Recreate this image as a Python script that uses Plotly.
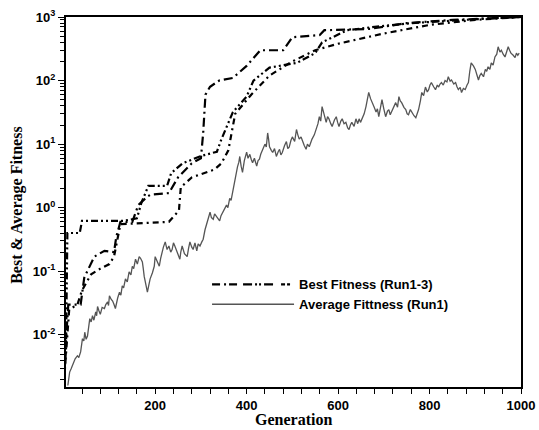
import plotly.graph_objects as go

# ---------------- data ----------------
best_a_gen = [1, 5, 8, 35, 40, 130, 160, 170, 185, 226, 235, 260, 300, 335, 345,
              360, 370, 400, 415, 450, 510, 550, 565, 620, 680, 760, 850, 930, 1000]
best_a_val = [0.002, 0.006, 0.4, 0.4, 0.62, 0.62, 0.68, 1.2, 2.2, 2.2, 3.5, 5, 6.5, 7.6, 12,
              22, 32, 56, 100, 160, 190, 270, 400, 620, 700, 800, 880, 950, 1000]

best_b_gen = [1, 6, 10, 37, 45, 67, 89, 110, 115, 124, 150, 163, 183, 190, 230, 250, 280,
              300, 305, 310, 320, 340, 370, 400, 430, 480, 500, 560, 570, 670, 750, 850, 1000]
best_b_val = [0.003, 0.01, 0.03, 0.03, 0.08, 0.17, 0.21, 0.2, 0.35, 0.6, 0.6, 1.1, 1.5, 1.6,
              1.7, 3, 5, 6, 15, 60, 80, 100, 110, 170, 300, 300, 480, 520, 620, 650, 800, 900, 1000]

best_c_gen = [1, 6, 12, 30, 40, 60, 80, 100, 110, 124, 230, 252, 256, 280, 330, 345, 360,
              375, 395, 410, 450, 500, 550, 600, 700, 800, 900, 1000]
best_c_val = [0.002, 0.006, 0.025, 0.03, 0.05, 0.09, 0.11, 0.13, 0.17, 0.55, 0.6, 0.9, 2.1,
              3, 4, 5, 8, 30, 45, 60, 120, 200, 300, 380, 550, 750, 900, 1000]

avg_gen = [9, 11, 13, 16, 20, 25, 30, 33, 37, 39, 41, 44, 46, 49, 52, 55, 57, 60, 63, 66,
           70, 72, 74, 77, 80, 84, 89, 92, 96, 98, 100, 104, 107, 110, 113, 118, 122, 125,
           128, 131, 135, 139, 143, 147, 150, 153, 157, 161, 165, 168, 172, 174, 176, 180,
           183, 186, 189, 194, 198, 200, 205, 209, 212, 215, 218, 222, 226, 230, 234, 237,
           240, 243, 248, 254, 256, 259, 264, 270, 273, 276, 280, 283, 287, 291, 294, 298,
           302, 305, 309, 313, 316, 320, 323, 327, 330, 334, 337, 341, 344, 348, 352, 356,
           359, 363, 366, 370, 374, 377, 380, 383, 385, 388, 391, 395, 400, 403, 407, 410,
           413, 417, 422, 425, 428, 431, 435, 440, 443, 446, 448, 450, 454, 457, 461, 465,
           469, 472, 475, 478, 483, 487, 490, 493, 497, 500, 505, 509, 512, 515, 519, 522,
           526, 530, 533, 537, 540, 543, 548, 552, 556, 559, 562, 565, 570, 574, 577, 580,
           584, 587, 592, 596, 599, 602, 606, 609, 613, 617, 621, 624, 627, 630, 635, 639,
           643, 646, 649, 652, 657, 661, 664, 667, 671, 674, 679, 683, 686, 689, 693, 696,
           700, 704, 708, 711, 714, 717, 722, 726, 730, 733, 736, 739, 744, 748, 751, 754,
           758, 761, 766, 770, 773, 776, 780, 783, 787, 791, 795, 798, 801, 804, 809, 813,
           817, 820, 823, 826, 830, 834, 838, 841, 845, 848, 853, 857, 860, 863, 867, 870,
           874, 878, 882, 885, 888, 891, 896, 900, 904, 907, 910, 913, 918, 922, 925, 928,
           932, 935, 939, 943, 947, 950, 954, 957, 961, 965, 969, 972, 975, 978, 983, 987,
           990, 993, 996]
avg_val = [0.0016, 0.0022, 0.0026, 0.0029, 0.0035, 0.0042, 0.0047, 0.0044, 0.0054, 0.0070,
           0.0087, 0.0080, 0.011, 0.0085, 0.0096, 0.014, 0.018, 0.016, 0.020, 0.017,
           0.023, 0.020, 0.028, 0.024, 0.021, 0.027, 0.026, 0.030, 0.033, 0.029, 0.041, 0.036,
           0.034, 0.030, 0.026, 0.038, 0.047, 0.042,
           0.059, 0.055, 0.076, 0.068, 0.098, 0.088, 0.12, 0.11, 0.155, 0.13, 0.17, 0.16,
           0.14, 0.11, 0.083, 0.060,
           0.047, 0.060, 0.076, 0.095, 0.12, 0.17, 0.14, 0.12, 0.16, 0.20, 0.24, 0.29, 0.22,
           0.25, 0.20, 0.22,
           0.28, 0.25, 0.20, 0.155, 0.20, 0.25, 0.19, 0.17, 0.23, 0.29, 0.24, 0.22, 0.28,
           0.21, 0.27, 0.25,
           0.29, 0.32, 0.45, 0.59, 0.70, 0.85, 0.70, 0.66, 0.80, 0.73, 0.68, 0.62, 0.75, 0.85,
           0.95, 1.1,
           1.0, 1.4, 1.3, 1.9, 2.5, 3.2, 4.4, 5.2, 6.4, 4.5, 3.6, 5.5, 7.5, 6.0, 6.9, 5.8,
           5.1, 6.0, 4.5, 5.5, 5.8, 7.0, 8.3, 10, 9, 15, 12, 9.1, 8.0, 7.4, 8.5, 6.4,
           7.6, 8.3, 6.8, 7.4, 9.5, 11, 8.5, 9, 11.5, 13, 11, 17, 14, 12, 13, 11,
           9.5, 8.3, 10, 9.1, 11, 12, 14, 17, 21, 27, 23, 39, 28, 22, 27, 25,
           21, 19, 24, 27, 22, 19, 23, 25, 21, 22, 18, 17, 20, 22, 19, 25,
           21, 25, 22, 25, 30, 39, 50, 65, 52, 45, 38, 32, 36, 27, 38, 50,
           36, 27, 33, 35, 29, 32, 40, 45, 38, 56, 48, 45, 38, 35, 30, 29,
           35, 32, 28, 26, 30, 35, 48, 65, 58, 79, 66, 72, 85, 93, 80, 72,
           85, 79, 88, 93, 85, 100, 95, 115, 98, 102, 88, 93, 80, 72, 78, 65,
           75, 72, 85, 93, 140, 190, 170, 150, 120, 102, 120, 130, 115, 150, 140, 165,
           150, 190, 175, 235, 260, 340, 280, 300, 260, 235, 290, 340, 300, 270, 250, 230,
           270, 250, 270]

y_tick_vals = [0.01, 0.1, 1, 10, 100, 1000]
y_tick_text = ["10<sup>-2</sup>", "10<sup>-1</sup>", "10<sup>0</sup>",
               "10<sup>1</sup>", "10<sup>2</sup>", "10<sup>3</sup>"]
x_tick_vals = [200, 400, 600, 800, 1000]
x_tick_text = ["200", "400", "600", "800", "1000"]

legend_best = "Best Fitness (Run1-3)"
legend_avg = "Average Fittness (Run1)"
x_title = "Generation"
y_title = "Best & Average Fitness"

# ---------------- figure ----------------
fig = go.Figure()

fig.add_trace(go.Scatter(x=avg_gen, y=avg_val, mode="lines", name=legend_avg,
                         line=dict(color="#555555", width=1.3), showlegend=False))
fig.add_trace(go.Scatter(x=best_a_gen, y=best_a_val, mode="lines", showlegend=False,
                         line=dict(color="black", width=2.2, dash="7px,3px,2px,3px,2px,3px")))
fig.add_trace(go.Scatter(x=best_b_gen, y=best_b_val, mode="lines", showlegend=False,
                         line=dict(color="black", width=2.2, dash="9px,4px,2px,4px")))
fig.add_trace(go.Scatter(x=best_c_gen, y=best_c_val, mode="lines", showlegend=False,
                         line=dict(color="black", width=2.2, dash="6px,4px,2px,4px")))

# legend-only entries
fig.add_trace(go.Scatter(x=[None], y=[None], mode="lines", name=legend_best,
                         line=dict(color="black", width=2.2,
                                   dash="8px,4px,2px,3px,8px,6px,9px,3px,2px,2px,2px,3px,9px")))
fig.add_trace(go.Scatter(x=[None], y=[None], mode="lines", name=legend_avg,
                         line=dict(color="#555555", width=1.4)))

tickfont = dict(family="Liberation Sans, Arial, sans-serif", size=13, color="black", weight="bold")
titlefont = dict(family="Liberation Serif, Times New Roman, serif", size=16, color="black", weight="bold")

fig.update_layout(
    width=539, height=430,
    margin=dict(l=66, r=18, t=17, b=43, autoexpand=False),
    paper_bgcolor="white", plot_bgcolor="white",
    showlegend=True,
    legend=dict(x=0.31, y=0.318, xanchor="left", yanchor="top",
                bgcolor="rgba(0,0,0,0)", itemwidth=82, tracegroupgap=0,
                font=dict(family="Liberation Sans, Arial, sans-serif", size=13,
                          color="black", weight="bold")),
    annotations=[
        dict(text=x_title, xref="paper", yref="paper", x=0.499, y=-0.089,
             xanchor="center", yanchor="middle", showarrow=False, font=titlefont),
        dict(text=y_title, xref="paper", yref="paper", x=-0.108, y=0.492,
             xanchor="center", yanchor="middle", textangle=-90, showarrow=False, font=titlefont),
    ],
)

fig.update_xaxes(
    range=[5, 1000], showgrid=False, zeroline=False, automargin=False,
    showline=True, linecolor="black", linewidth=2, mirror=True,
    tickvals=x_tick_vals, ticktext=x_tick_text,
    ticks="outside", ticklen=5, tickwidth=1, tickcolor="black",
    minor=dict(ticks="outside", ticklen=5, tickwidth=1, tickcolor="black", dtick=40, tick0=0),
    tickfont=tickfont,
)
fig.update_yaxes(
    type="log", range=[-2.82, 3], showgrid=False, zeroline=False, automargin=False,
    showline=True, linecolor="black", linewidth=2, mirror=True,
    tickvals=y_tick_vals, ticktext=y_tick_text,
    ticks="outside", ticklen=6, tickwidth=1, tickcolor="black",
    minor=dict(ticks="outside", ticklen=4, tickwidth=1, tickcolor="black", dtick="D1"),
    tickfont=tickfont,
)

assert len(avg_gen) == len(avg_val)
fig.write_html("out.html")
